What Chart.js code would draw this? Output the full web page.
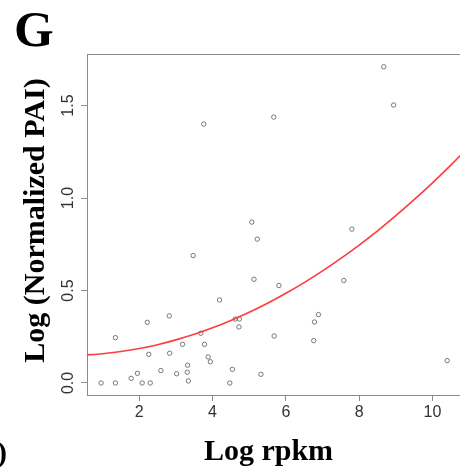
<!DOCTYPE html>
<html>
<head>
<meta charset="utf-8">
<script src="https://cdn.jsdelivr.net/npm/chart.js@4/dist/chart.umd.min.js"></script>
<style>
  html, body { margin: 0; padding: 0; background: #fff; }
  #wrap { width: 460px; height: 470px; position: relative; }
</style>
</head>
<body>
<div id="wrap"><canvas id="c" width="460" height="470"></canvas></div>
<script>
// ---- data ----
const logRpkm = [0.96, 1.35, 1.35, 1.78, 1.95, 2.08, 2.30, 2.22, 2.26, 2.59,
                 2.82, 2.83, 3.02, 3.18, 3.32, 3.31, 3.34, 3.47, 3.68, 3.78,
                 3.88, 3.94, 4.19, 4.47, 4.54, 4.62, 4.73, 4.72, 5.13, 5.22,
                 5.07, 5.32, 5.68, 5.81, 3.76, 5.67, 8.67, 8.94, 7.80, 7.58,
                 6.89, 6.78, 6.76, 10.40];
const logPAI  = [0.000, 0.000, 0.245, 0.025, 0.052, 0.000, 0.000, 0.328, 0.155, 0.067,
                 0.363, 0.161, 0.050, 0.209, 0.096, 0.058, 0.011, 0.689, 0.269, 0.209,
                 0.141, 0.115, 0.449, 0.000, 0.074, 0.346, 0.346, 0.303, 0.561, 0.778,
                 0.870, 0.047, 0.254, 0.527, 1.400, 1.438, 1.710, 1.503, 0.832, 0.554,
                 0.370, 0.330, 0.229, 0.121];
// fitted curve
const fitX = [0.5, 1, 1.5, 2, 2.5, 3, 3.5, 4, 4.5, 5, 5.5, 6, 6.5, 7, 7.5, 8, 8.5, 9, 9.5, 10, 10.5, 11];
const fitY = [0.151, 0.158, 0.170, 0.186, 0.207, 0.233, 0.263, 0.298, 0.338, 0.382, 0.431,
              0.485, 0.543, 0.606, 0.674, 0.746, 0.823, 0.905, 0.991, 1.082, 1.178, 1.278];
const xTicks = [2, 4, 6, 8, 10];
const yTicks = [0, 0.5, 1.0, 1.5];
const yTickLabels = ['0.0', '0.5', '1.0', '1.5'];
const panelLabel = 'G';
const xTitle = 'Log rpkm';
const yTitle = 'Log (Normalized PAI)';

const points = logRpkm.map((x, i) => ({ x: x, y: logPAI[i] }));
const fit = fitX.map((x, i) => ({ x: x, y: fitY[i] }));

const serif = '"Liberation Serif", "Times New Roman", serif';
const sans = '"Liberation Sans", Arial, sans-serif';

const decor = {
  id: 'decor',
  beforeDatasetsDraw(chart) {
    const { ctx, chartArea: a } = chart;
    ctx.save();
    ctx.strokeStyle = '#8a8a8a';
    ctx.lineWidth = 1;
    ctx.strokeRect(a.left + 0.5, a.top + 0.5, a.right - a.left, a.bottom - a.top);
    ctx.restore();
  },
  afterDraw(chart) {
    const { ctx } = chart;
    ctx.save();
    ctx.fillStyle = '#000';
    ctx.textBaseline = 'alphabetic';
    ctx.textAlign = 'left';
    ctx.font = 'bold 51px ' + serif;
    ctx.fillText(panelLabel, 14, 46);
    ctx.font = 'bold 30px ' + serif;
    ctx.fillText(')', -3, 462);
    ctx.textAlign = 'center';
    ctx.fillText(xTitle, 268.5, 460);
    ctx.save();
    ctx.translate(43.5, 220.5);
    ctx.rotate(-Math.PI / 2);
    ctx.fillText(yTitle, 0, 0);
    ctx.restore();
    ctx.restore();
  }
};

new Chart(document.getElementById('c'), {
  type: 'scatter',
  data: {
    datasets: [
      {
        data: points,
        pointStyle: 'circle',
        pointRadius: 2.2,
        pointHoverRadius: 2.2,
        pointBorderWidth: 0.9,
        pointBorderColor: '#6a6a6a',
        pointBackgroundColor: 'rgba(0,0,0,0)',
        showLine: false,
        order: 2
      },
      {
        data: fit,
        showLine: true,
        borderColor: '#ff3b3b',
        borderWidth: 1.6,
        pointRadius: 0,
        pointHoverRadius: 0,
        tension: 0.4,
        cubicInterpolationMode: 'monotone',
        fill: false,
        order: 1
      }
    ]
  },
  options: {
    responsive: false,
    animation: false,
    devicePixelRatio: 1,
    layout: { autoPadding: false, padding: { top: 54, left: 0, right: 0, bottom: 0 } },
    plugins: { legend: { display: false }, tooltip: { enabled: false } },
    scales: {
      x: {
        type: 'linear',
        min: 0.575,
        max: 10.75,
        afterFit(s) { s.height = 75; s.paddingLeft = 0; s.paddingRight = 0; },
        afterBuildTicks(s) { s.ticks = xTicks.map(v => ({ value: v })); },
        grid: { display: true, drawOnChartArea: false, drawTicks: true, tickLength: 6, color: '#8a8a8a', tickColor: '#8a8a8a' },
        border: { display: true, color: '#8a8a8a' },
        ticks: { font: { family: sans, size: 16 }, color: '#333', padding: 2, maxRotation: 0, autoSkip: false }
      },
      y: {
        type: 'linear',
        min: -0.065,
        max: 1.779,
        afterFit(s) { s.width = 87; },
        afterBuildTicks(s) { s.ticks = yTicks.map(v => ({ value: v })); },
        grid: { display: true, drawOnChartArea: false, drawTicks: true, tickLength: 6, color: '#8a8a8a', tickColor: '#8a8a8a' },
        border: { display: true, color: '#8a8a8a' },
        ticks: {
          font: { family: sans, size: 16 }, color: '#333', padding: 1,
          minRotation: 90, maxRotation: 90, crossAlign: 'center', autoSkip: false,
          callback: (v) => { const i = yTicks.indexOf(v); return i >= 0 ? yTickLabels[i] : ''; }
        }
      }
    }
  },
  plugins: [decor]
});
</script>
</body>
</html>
